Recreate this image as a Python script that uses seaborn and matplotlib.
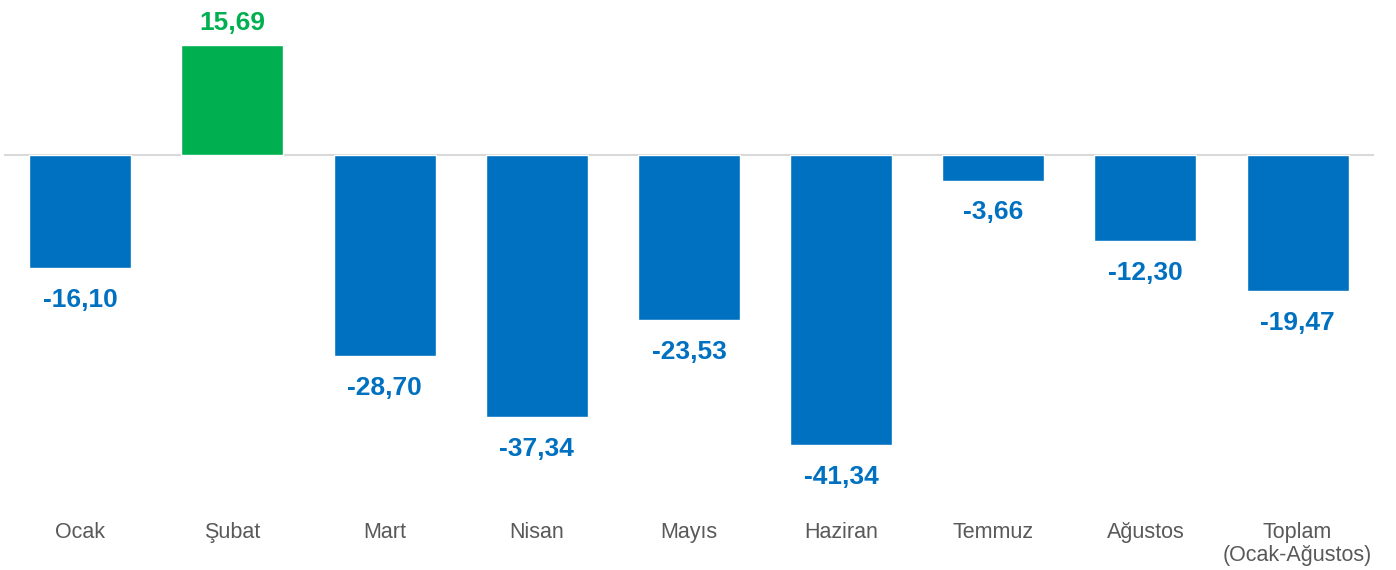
import matplotlib
matplotlib.use("Agg")
from matplotlib import pyplot as plt
import pandas as pd
import seaborn as sns

months = ["Ocak", "Şubat", "Mart", "Nisan", "Mayıs", "Haziran", "Temmuz", "Ağustos",
          "Toplam\n(Ocak-Ağustos)"]
values = [-16.10, 15.69, -28.70, -37.34, -23.53, -41.34, -3.66, -12.30, -19.47]

BLUE = "#0070C0"
GREEN = "#00B050"

sns.set_style("white")
plt.rcParams["font.family"] = ["Liberation Sans", "DejaVu Sans"]

df = pd.DataFrame({"month": months, "value": values})
df["sign"] = ["pos" if v >= 0 else "neg" for v in values]

fig = plt.figure(figsize=(13.96, 5.70), dpi=100)
ax = fig.add_axes([4.2 / 1396, 65 / 570, 1369.5 / 1396, 505 / 570])

sns.barplot(data=df, x="month", y="value", hue="sign", palette={"pos": GREEN, "neg": BLUE},
            dodge=False, width=0.67, saturation=1, legend=False, ax=ax)

ax.axhline(0, color="#D9D9D9", lw=1.5, zorder=0)
ax.set_ylim(-49.93, 22.1)
ax.set_xlim(-0.5, len(months) - 0.5)

# value labels
for i, v in enumerate(values):
    txt = f"{v:.2f}".replace(".", ",")
    col = GREEN if v >= 0 else BLUE
    off = 11 if v >= 0 else -28
    ax.annotate(txt, (i, v), xytext=(0, off), textcoords="offset points",
                ha="center", va="baseline", fontsize=19, fontweight="bold", color=col)

ax.set_xlabel("")
ax.set_ylabel("")
ax.set_yticks([])
ax.tick_params(axis="x", length=0, pad=12, labelsize=15.5, labelcolor="#595959")
for lbl in ax.get_xticklabels():
    lbl.set_linespacing(1.15)
for s in ax.spines.values():
    s.set_visible(False)

fig.savefig("out.png", dpi=100)
